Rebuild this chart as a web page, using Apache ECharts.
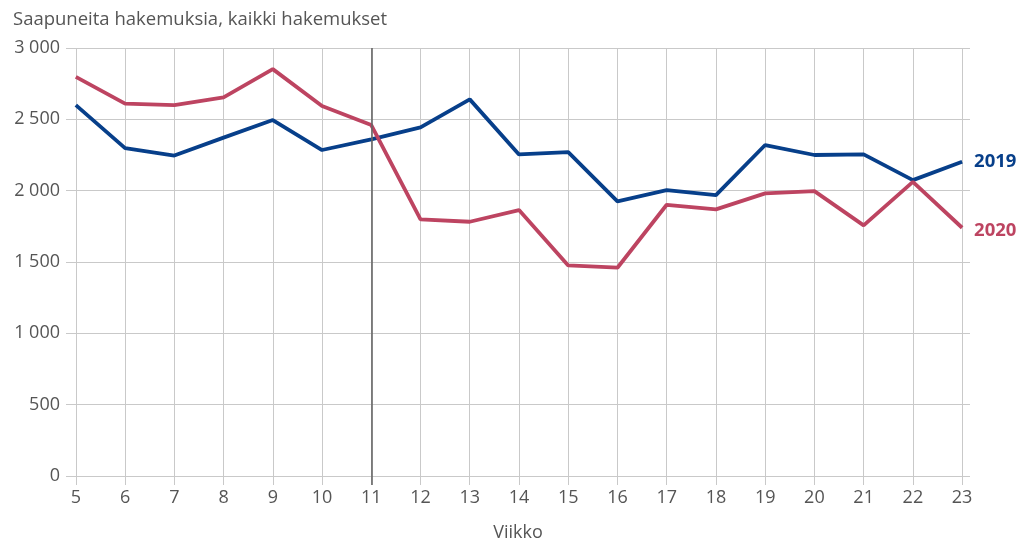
<!DOCTYPE html>
<html>
<head>
<meta charset="utf-8">
<script src="https://cdn.jsdelivr.net/npm/echarts@6/dist/echarts.min.js"></script>
<style>
  html, body { margin: 0; padding: 0; background: #fff; }
  #chart { width: 1029px; height: 544px; }
</style>
</head>
<body>
<div id="chart"></div>
<script>
// viikot ja saapuneet hakemukset
const weeks = [5, 6, 7, 8, 9, 10, 11, 12, 13, 14, 15, 16, 17, 18, 19, 20, 21, 22, 23];
const apps2019 = [2600, 2298, 2246, 2372, 2495, 2285, 2360, 2443, 2640, 2254, 2270, 1925, 2004, 1969, 2320, 2250, 2254, 2074, 2203];
const apps2020 = [2798, 2610, 2600, 2654, 2852, 2593, 2460, 1799, 1782, 1864, 1476, 1460, 1901, 1869, 1981, 1997, 1757, 2062, 1740];
const yTicks = [0, 500, 1000, 1500, 2000, 2500, 3000];
const markWeek = 11;

const textColor = '#555';
const gridColor = '#c9c9c9';
const blue = '#073f8a';
const red = '#bd4461';
const font = 'Open Sans';

function fmt(v) {
    return String(v).replace(/\B(?=(\d{3})+(?!\d))/g, ' ');
}

const chart = echarts.init(document.getElementById('chart'));

chart.setOption({
    animation: false,
    textStyle: { fontFamily: font },
    title: {
        text: 'Saapuneita hakemuksia, kaikki hakemukset',
        left: 8,
        top: 5,
        textStyle: { color: textColor, fontSize: 18.5, fontWeight: 'normal', fontFamily: font }
    },
    grid: { left: 66, right: 59, top: 48, bottom: 68, outerBoundsMode: 'none' },
    xAxis: [
        {
            type: 'value',
            min: 4.8,
            max: 23.16,
            name: 'Viikko',
            nameLocation: 'middle',
            nameGap: 48,
            nameTextStyle: { color: textColor, fontSize: 18 },
            axisLine: { show: false },
            axisTick: { show: true, inside: false, length: 9, customValues: weeks, lineStyle: { color: gridColor } },
            axisLabel: { customValues: weeks, color: textColor, fontSize: 18, margin: 13 },
            splitLine: { show: false }
        },
        {
            type: 'value',
            min: 4.8,
            max: 23.16,
            position: 'bottom',
            axisLine: { show: false },
            axisTick: { show: true, inside: true, length: 428, customValues: weeks, lineStyle: { color: gridColor } },
            axisLabel: { show: false },
            splitLine: { show: false }
        },
        {
            // tumma tikki viikon 11 kohdalla
            type: 'value',
            min: 4.8,
            max: 23.16,
            position: 'bottom',
            axisLine: { show: false },
            axisTick: { show: true, inside: false, length: 9, customValues: [markWeek], lineStyle: { color: '#666', width: 1.6 } },
            axisLabel: { show: false },
            splitLine: { show: false }
        }
    ],
    yAxis: {
        type: 'value',
        min: yTicks[0],
        max: yTicks[yTicks.length - 1],
        interval: 500,
        axisLine: { show: false },
        axisTick: { show: false },
        axisLabel: { color: textColor, fontSize: 18, margin: 6, formatter: fmt },
        splitLine: { lineStyle: { color: gridColor } }
    },
    series: [
        {
            name: '2019',
            type: 'line',
            data: weeks.map((w, i) => [w, apps2019[i]]),
            symbol: 'none',
            lineStyle: { color: blue, width: 3.8 },
            itemStyle: { color: blue },
            endLabel: {
                show: true,
                formatter: '{a}',
                color: blue,
                fontSize: 18.5,
                fontWeight: 'bold',
                distance: 12
            },
            markLine: {
                silent: true,
                symbol: 'none',
                label: { show: false },
                lineStyle: { color: '#666', width: 1.6, type: 'solid' },
                data: [{ xAxis: markWeek }]
            },
            z: 2
        },
        {
            name: '2020',
            type: 'line',
            data: weeks.map((w, i) => [w, apps2020[i]]),
            symbol: 'none',
            lineStyle: { color: red, width: 3.8 },
            itemStyle: { color: red },
            endLabel: {
                show: true,
                formatter: '{a}',
                color: red,
                fontSize: 18.5,
                fontWeight: 'bold',
                distance: 12,
                offset: [0, 3]
            },
            z: 3
        }
    ]
});
</script>
</body>
</html>
